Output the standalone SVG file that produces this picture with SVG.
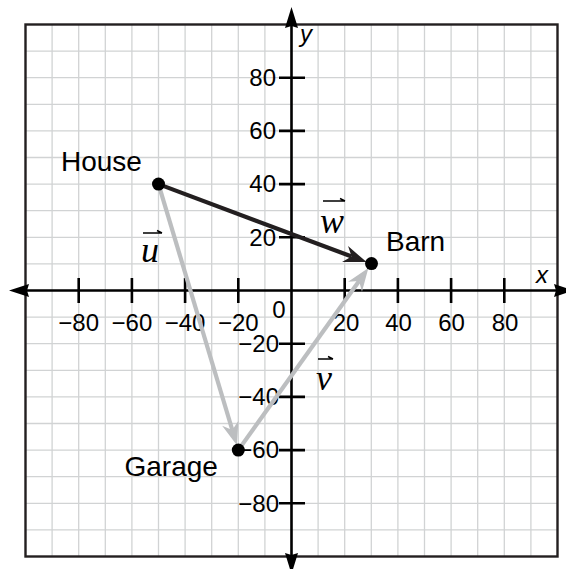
<svg xmlns="http://www.w3.org/2000/svg" width="566" height="569" viewBox="0 0 566 569">
<style>
.grid{stroke:#d1d3d4;stroke-width:1.3;fill:none}
.border{stroke:#231f20;stroke-width:2.4;fill:none}
.axis{stroke:#000;stroke-width:2.6;fill:none}
.tick{stroke:#000;stroke-width:2.6}
.num{font-family:"Liberation Sans",Arial,sans-serif;font-size:24px;fill:#000}
.lbl{font-family:"Liberation Sans",Arial,sans-serif;font-size:28px;fill:#000}
.ax{font-family:"Liberation Sans",Arial,sans-serif;font-style:italic;font-size:24px;fill:#000}
.vl{font-family:"Liberation Serif","Times New Roman",serif;font-style:italic;font-size:36px;fill:#000}
.vdark{stroke:#231f20;stroke-width:4.2;fill:none}
.vgray{stroke:#bcbec0;stroke-width:4.2;fill:none}
.over{stroke:#000;stroke-width:1.5;fill:none}
</style>
<defs>
<marker id="ahDark" markerUnits="userSpaceOnUse" orient="auto" refX="-16" refY="0" markerWidth="30" markerHeight="30" overflow="visible">
<path d="M0,0 L-23,-8.5 L-16,0 L-23,8.5 Z" fill="#231f20"/>
</marker>
<marker id="ahGray" markerUnits="userSpaceOnUse" orient="auto" refX="-16" refY="0" markerWidth="30" markerHeight="30" overflow="visible">
<path d="M0,0 L-23,-8.5 L-16,0 L-23,8.5 Z" fill="#bcbec0"/>
</marker>
</defs>
<rect width="566" height="569" fill="#fff"/>
<g id="grid">
<path class="grid" d="M52.1,24.5V556.5M78.7,24.5V556.5M105.3,24.5V556.5M131.9,24.5V556.5M158.5,24.5V556.5M185.1,24.5V556.5M211.7,24.5V556.5M238.3,24.5V556.5M264.9,24.5V556.5M318.1,24.5V556.5M344.7,24.5V556.5M371.3,24.5V556.5M397.9,24.5V556.5M424.5,24.5V556.5M451.1,24.5V556.5M477.7,24.5V556.5M504.3,24.5V556.5M530.9,24.5V556.5M25.5,51.1H557.5M25.5,77.7H557.5M25.5,104.3H557.5M25.5,130.9H557.5M25.5,157.5H557.5M25.5,184.1H557.5M25.5,210.7H557.5M25.5,237.3H557.5M25.5,263.9H557.5M25.5,317.1H557.5M25.5,343.7H557.5M25.5,370.3H557.5M25.5,396.9H557.5M25.5,423.5H557.5M25.5,450.1H557.5M25.5,476.7H557.5M25.5,503.3H557.5M25.5,529.9H557.5"/>
<rect class="border" x="25.5" y="24.5" width="532" height="532"/>
</g>
<g id="axes">
<path class="axis" d="M26,290.5H560M291.5,26V560"/>
<path d="M9,290.5 L29,284 L27,290.5 L29,297 Z" fill="#000"/>
<path d="M574,290.5 L554,284 L556,290.5 L554,297 Z" fill="#000"/>
<path d="M291.5,7 L285,28 L291.5,26 L298,28 Z" fill="#000"/>
<path d="M291.5,574 L285,553 L291.5,555 L298,553 Z" fill="#000"/>
<path class="tick" d="M78.7,278V303M131.9,278V303M185.1,278V303M238.3,278V303M344.7,278V303M397.9,278V303M451.1,278V303M504.3,278V303M279,77.7H305M279,130.9H305M279,184.1H305M279,237.3H305M279,343.7H305M279,396.9H305M279,450.1H305M279,503.3H305"/>
<g class="num" text-anchor="middle">
<text x="78.7" y="331">−80</text>
<text x="131.9" y="331">−60</text>
<text x="185.1" y="331">−40</text>
<text x="238.3" y="331">−20</text>
<text x="346" y="331">20</text>
<text x="398.5" y="331">40</text>
<text x="451.5" y="331">60</text>
<text x="505" y="331">80</text>
<text x="279" y="318">0</text>
</g>
<g class="num" text-anchor="end">
<text x="276" y="86">80</text>
<text x="276" y="139">60</text>
<text x="276" y="192">40</text>
<text x="276" y="245.5">20</text>
<text x="279" y="352">−20</text>
<text x="279" y="405">−40</text>
<text x="279" y="458">−60</text>
<text x="279" y="511.5">−80</text>
</g>
<text class="ax" x="536" y="283">x</text>
<text class="ax" x="300" y="42">y</text>
</g>
<g id="connectors">
<line id="vec-w" class="vdark" x1="158.5" y1="184.1" x2="351.6" y2="256.5" marker-end="url(#ahDark)"/>
<line id="vec-u" class="vgray" x1="158.5" y1="184.1" x2="232.3" y2="430.0" marker-end="url(#ahGray)"/>
<line id="vec-v" class="vgray" x1="238.3" y1="450.1" x2="359.1" y2="281.0" marker-end="url(#ahGray)"/>
</g>
<g id="house">
<circle cx="158.5" cy="184.1" r="6.5" fill="#000"/>
<text class="lbl" x="61" y="171">House</text>
</g>
<g id="barn">
<circle cx="371.5" cy="263.6" r="6.5" fill="#000"/>
<text class="lbl" x="386" y="251">Barn</text>
</g>
<g id="garage">
<circle cx="238.3" cy="450.1" r="6.5" fill="#000"/>
<text class="lbl" x="124.5" y="476">Garage</text>
</g>
<g id="label-u">
<text class="vl" x="141" y="262">u</text>
<path class="over" d="M143,233H162M162,233L157,230.5"/>
</g>
<g id="label-w">
<text class="vl" x="320" y="233">w</text>
<path class="over" d="M323,201H345M345,201L340,198.5"/>
</g>
<g id="label-v">
<text class="vl" x="316" y="390">v</text>
<path class="over" d="M318,359H333M333,359L328,356.5"/>
</g>
</svg>
